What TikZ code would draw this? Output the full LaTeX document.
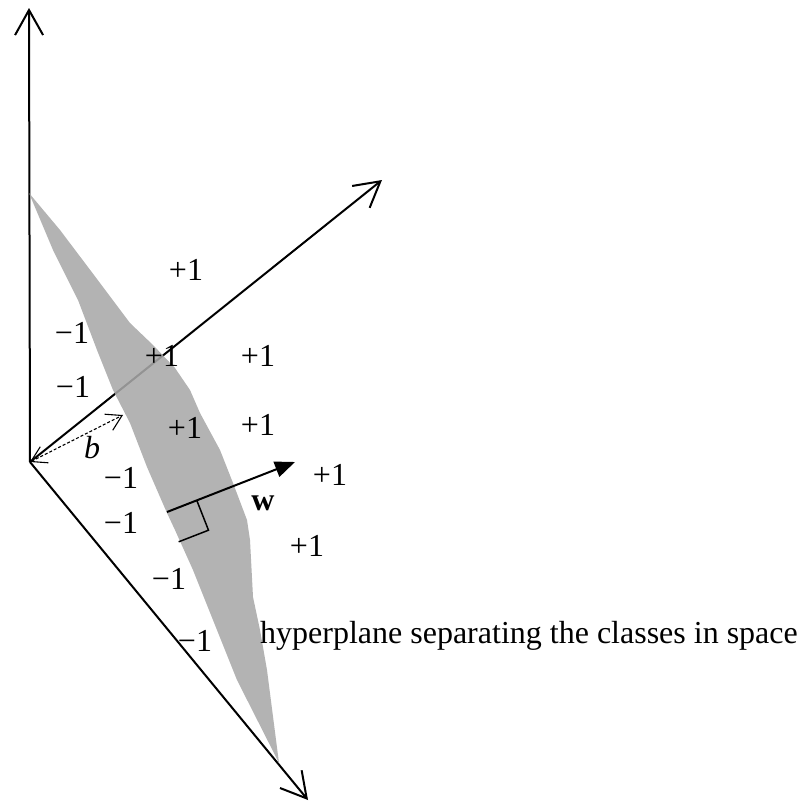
\documentclass[tikz,border=0pt]{standalone}
\usepackage{fontspec}
\setmainfont{Liberation Serif}
\usetikzlibrary{arrows.meta}
\begin{document}
\begin{tikzpicture}[x=1pt,y=-1pt,
  axis/.style={line width=2pt,-{Straight Barb[length=25pt,width=28pt,line width=2pt]}},
  lbl/.style={font=\fontsize{32}{32}\selectfont,inner sep=0pt},
  plane/.style={fill=black!34,draw=none,fill opacity=0.88},
  wvec/.style={line width=2pt,-{Triangle[length=20pt,width=16pt]}},
  bvec/.style={line width=1.1pt,dash pattern=on 3pt off 2pt,{Straight Barb[length=15pt,width=18pt,line width=1.1pt]}-{Straight Barb[length=15pt,width=18pt,line width=1.1pt]}},
  rmark/.style={line width=1.5pt}]
\useasboundingbox (0,0) rectangle (800,803);
% axes
\coordinate (O) at (30,462);
\coordinate (Zt) at (29,8);
\coordinate (Xt) at (382,180);
\coordinate (Yt) at (308,800);
\draw[axis] (O) -- (Zt);
\draw[axis] (O) -- (Xt);
\draw[axis] (O) -- (Yt);
% hyperplane
\fill[plane] (29,193) -- (60,230) -- (100,283) -- (130,323) -- (153,345) -- (175,368)
  -- (190,390) -- (200,413) -- (220,450) -- (233,483) -- (247,520) -- (250,540)
  -- (253,597) -- (260,630) -- (267,670) -- (279,763) -- (237,680) -- (217,630)
  -- (193,570) -- (175,530) -- (167,513) -- (147,467) -- (130,423) -- (113,390)
  -- (97,350) -- (78,300) -- (53,250) -- cycle;
% b
\coordinate (Bt) at (123,415);
\draw[bvec] (O) -- (Bt);
% w
\coordinate (A) at (167,512);
\coordinate (T) at (295,462);
\coordinate (RB) at (196.8,500.4);
\coordinate (RC) at (208.5,530.2);
\coordinate (RD) at (178.7,541.8);
\draw[wvec] (A) -- (T);
\draw[rmark] (RB) -- (RC) -- (RD);
% labels
\node[lbl] (p1) at (186,270) {+1};
\node[lbl] (m1) at (72,333) {−1};
\node[lbl] (p2) at (162,356) {+1};
\node[lbl] (p3) at (258,356) {+1};
\node[lbl] (m2) at (73,387) {−1};
\node[lbl] (p4) at (185,428) {+1};
\node[lbl] (p5) at (258,425) {+1};
\node[lbl] (bl) at (92,448) {\itshape b};
\node[lbl] (m3) at (121,478) {−1};
\node[lbl] (p6) at (330,475) {+1};
\node[lbl] (wl) at (263,503) {\bfseries w};
\node[lbl] (m4) at (121,523) {−1};
\node[lbl] (p7) at (307,546) {+1};
\node[lbl] (m5) at (169,579) {−1};
\node[lbl] (m6) at (195,641) {−1};
\node[lbl,anchor=base west] (hyp) at (260,643) {hyperplane separating the classes in space};
\end{tikzpicture}
\end{document}
